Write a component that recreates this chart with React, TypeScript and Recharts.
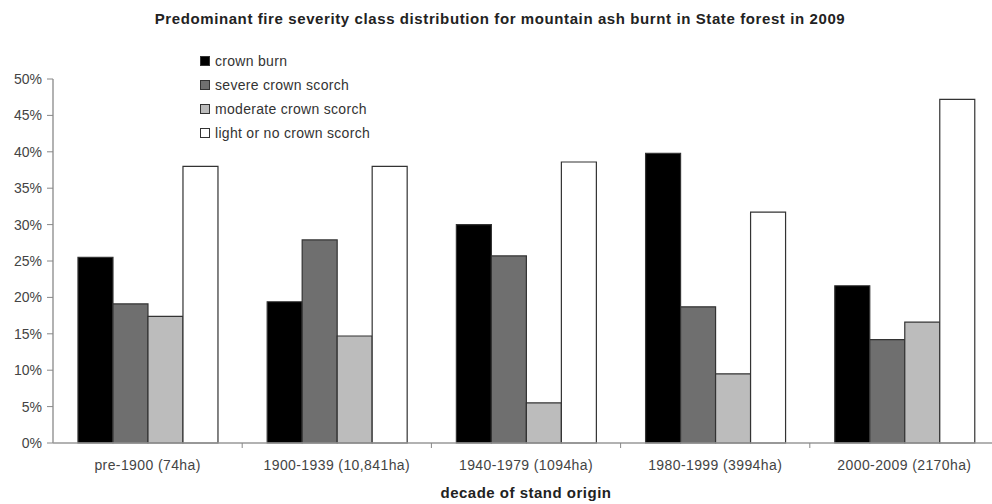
import React from "react";
import { BarChart, Bar, XAxis, YAxis, Legend } from "recharts";

const categories = [
  "pre-1900 (74ha)",
  "1900-1939 (10,841ha)",
  "1940-1979 (1094ha)",
  "1980-1999 (3994ha)",
  "2000-2009 (2170ha)",
];
const crownBurn = [25.5, 19.4, 30.0, 39.8, 21.6];
const severeScorch = [19.1, 27.9, 25.7, 18.7, 14.2];
const moderateScorch = [17.4, 14.7, 5.5, 9.5, 16.6];
const lightScorch = [38.0, 38.0, 38.6, 31.7, 47.2];
const yTicks = [0, 5, 10, 15, 20, 25, 30, 35, 40, 45, 50];

const seriesNames = [
  "crown burn",
  "severe crown scorch",
  "moderate crown scorch",
  "light or no crown scorch",
];
const seriesColors = ["#000000", "#6f6f6f", "#bcbcbc", "#ffffff"];

const data = categories.map((c, i) => ({
  name: c,
  s0: crownBurn[i],
  s1: severeScorch[i],
  s2: moderateScorch[i],
  s3: lightScorch[i],
}));

const FONT = "'Liberation Sans', Arial, sans-serif";

const LegendContent = () => (
  <div style={{ fontFamily: FONT, fontSize: 14, color: "#333", letterSpacing: 0.3 }}>
    {seriesNames.map((n, i) => (
      <div key={n} style={{ display: "flex", alignItems: "center", height: 24 }}>
        <span
          style={{
            display: "inline-block",
            width: 8,
            height: 8,
            background: seriesColors[i],
            border: "1px solid #333",
            marginRight: 5,
          }}
        />
        <span>{n}</span>
      </div>
    ))}
  </div>
);

const CategoryTick = (props: any) => {
  const { x, y, payload, index, visibleTicksCount } = props;
  const half = payload && payload.offset ? payload.offset : 0;
  const last = index === (visibleTicksCount ?? categories.length) - 1;
  return (
    <g>
      {index > 0 && <line x1={x - half} x2={x - half} y1={y} y2={y + 5} stroke="#888" />}
      {last && <line x1={x + half} x2={x + half} y1={y} y2={y + 5} stroke="#888" />}
      <text
        x={x}
        y={y + 22}
        textAnchor="middle"
        dominantBaseline="central"
        fill="#444"
        fontSize={14}
        fontFamily={FONT}
        letterSpacing={0.4}
      >
        {payload.value}
      </text>
    </g>
  );
};

export default function App() {
  return (
    <div style={{ position: "absolute", left: 0, top: 0, width: 992, height: 504, overflow: "hidden", background: "#fff" }}>
      <div
        style={{
          position: "absolute",
          top: 10,
          width: 1000,
          textAlign: "center",
          fontFamily: FONT,
          fontWeight: "bold",
          fontSize: 15,
          letterSpacing: 0.6,
          color: "#222",
        }}
      >
        Predominant fire severity class distribution for mountain ash burnt in State forest in 2009
      </div>
      <BarChart
        width={1000}
        height={504}
        data={data}
        margin={{ top: 79, right: 1, bottom: 0, left: 0 }}
        barCategoryGap="13.2%"
        barGap={0}
      >
        <XAxis
          dataKey="name"
          height={61}
          axisLine={{ stroke: "#999", strokeWidth: 1.5 }}
          tickLine={false}
          tickSize={0}
          tickMargin={0}
          tick={<CategoryTick />}
          interval={0}
          label={{
            value: "decade of stand origin",
            position: "insideBottom",
            offset: 6,
            fill: "#222",
            fontSize: 15,
            fontWeight: "bold",
            fontFamily: FONT,
            letterSpacing: 0.5,
          }}
        />
        <YAxis
          width={53}
          domain={[0, 50]}
          ticks={yTicks}
          interval={0}
          tickFormatter={(v) => `${v}%`}
          axisLine={{ stroke: "#999", strokeWidth: 1.5 }}
          tickLine={{ stroke: "#888" }}
          tickSize={6}
          tickMargin={5}
          tick={{ fill: "#444", fontSize: 14, fontFamily: FONT }}
        />
        <Legend
          layout="horizontal"
          verticalAlign="middle"
          align="center"
          content={<LegendContent />}
          wrapperStyle={{ position: "absolute", left: 200, top: 49, width: 260 }}
        />
        {seriesNames.map((n, i) => (
          <Bar
            key={n}
            dataKey={`s${i}`}
            name={n}
            fill={seriesColors[i]}
            stroke="#333"
            strokeWidth={1.2}
            isAnimationActive={false}
          />
        ))}
      </BarChart>
    </div>
  );
}
